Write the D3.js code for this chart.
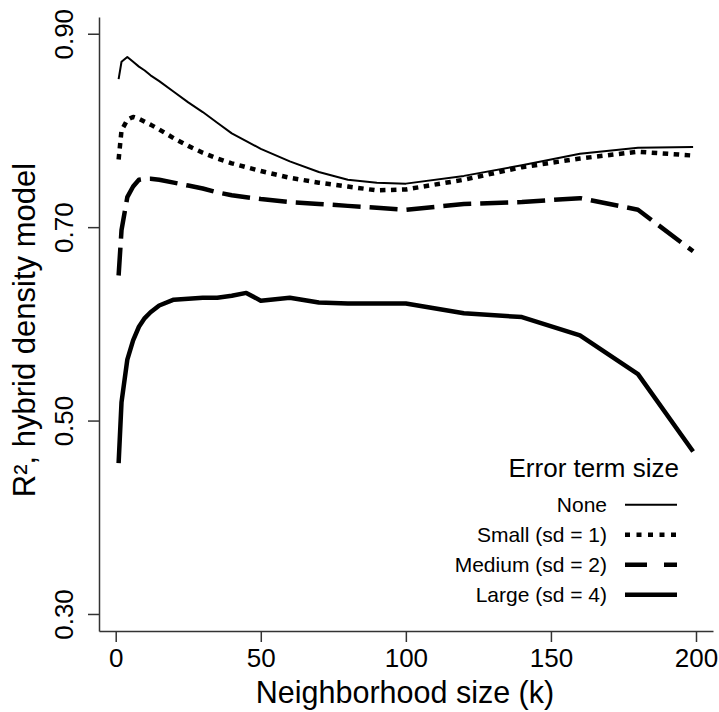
<!DOCTYPE html>
<html>
<head>
<meta charset="utf-8">
<script src="https://cdn.jsdelivr.net/npm/d3@7"></script>
<style>
  body { margin: 0; background: #fff; }
  text { font-family: "Liberation Sans", Arial, Helvetica, sans-serif; fill: #000; }
</style>
</head>
<body>
<script>
  // Width and height
  var w = 719;
  var h = 712;

  // neighborhood sizes (k) and R^2 per error term size
  var kValues = [1, 2, 4, 6, 8, 10, 12, 15, 20, 25, 30, 35, 40, 45, 50, 60, 70, 80, 90, 100, 120, 140, 160, 180, 199];
  var r2None   = [0.853, 0.871, 0.876, 0.871, 0.866, 0.862, 0.857, 0.851, 0.840, 0.829, 0.819, 0.808, 0.797, 0.789, 0.781, 0.768, 0.757, 0.749, 0.746, 0.745, 0.753, 0.764, 0.776, 0.782, 0.783];
  var r2Small  = [0.770, 0.800, 0.811, 0.814, 0.812, 0.809, 0.806, 0.801, 0.792, 0.784, 0.777, 0.771, 0.766, 0.762, 0.758, 0.751, 0.746, 0.742, 0.738, 0.739, 0.749, 0.762, 0.771, 0.778, 0.774];
  var r2Medium = [0.650, 0.697, 0.731, 0.742, 0.749, 0.750, 0.750, 0.749, 0.746, 0.743, 0.740, 0.736, 0.733, 0.731, 0.729, 0.726, 0.724, 0.722, 0.720, 0.718, 0.724, 0.726, 0.730, 0.718, 0.675];
  var r2Large  = [0.456, 0.519, 0.563, 0.583, 0.597, 0.606, 0.612, 0.619, 0.625, 0.626, 0.627, 0.627, 0.629, 0.632, 0.624, 0.627, 0.622, 0.621, 0.621, 0.621, 0.611, 0.607, 0.588, 0.548, 0.468];

  var seriesNames = ["None", "Small (sd = 1)", "Medium (sd = 2)", "Large (sd = 4)"];
  var xTicks = [0, 50, 100, 150, 200];
  var yTicks = [0.30, 0.50, 0.70, 0.90];

  // line styles, one per series
  var styles = [
    {width: 2,   dash: null,      legendDash: null},
    {width: 4.5, dash: "5.5,5.5", legendDash: "5,6.5"},
    {width: 4.5, dash: "28,9",    legendDash: "22,17"},
    {width: 4.5, dash: null,      legendDash: null}
  ];

  var series = [r2None, r2Small, r2Medium, r2Large].map((vals, i) => ({
    name: seriesNames[i],
    style: styles[i],
    points: kValues.map((k, j) => ({k: k, v: vals[j]}))
  }));

  var svg = d3.select("body")
      .append("svg")
      .attr("width", w)
      .attr("height", h);

  svg.append("rect")
      .attr("width", w)
      .attr("height", h)
      .attr("fill", "#fff");

  // scales span the full axis lines (R style 4% padding)
  var x = d3.scaleLinear().domain([-5.76, 205.86]).range([99, 713]);
  var y = d3.scaleLinear().domain([0.2824, 0.9173]).range([631, 17]);

  // x axis
  var xAxis = svg.append("g")
      .attr("transform", "translate(0,631)")
      .call(d3.axisBottom(x).tickValues(xTicks).tickSize(11).tickSizeOuter(0).tickPadding(7));

  xAxis.selectAll("text")
      .style("font-size", "26px")
      .attr("fill", "#000");

  // y axis, labels turned parallel to the axis
  var yAxis = svg.append("g")
      .attr("transform", "translate(99,0)")
      .call(d3.axisLeft(y).tickValues(yTicks).tickSize(11).tickSizeOuter(0).tickFormat(d3.format(".2f")));

  yAxis.selectAll(".tick text")
      .attr("x", null)
      .attr("dy", null)
      .attr("text-anchor", "middle")
      .attr("transform", "translate(-26,0) rotate(-90)")
      .style("font-size", "26px")
      .attr("fill", "#000");

  svg.selectAll(".domain, .tick line")
      .attr("stroke", "#333")
      .attr("stroke-width", 1.5);

  // axis titles
  svg.append("text")
      .attr("x", 405)
      .attr("y", 703)
      .attr("text-anchor", "middle")
      .style("font-size", "30.5px")
      .text("Neighborhood size (k)");

  svg.append("text")
      .attr("transform", "translate(35,330) rotate(-90)")
      .attr("text-anchor", "middle")
      .style("font-size", "31px")
      .text("R², hybrid density model");

  // lines
  var line = d3.line()
      .x(d => x(d.k))
      .y(d => y(d.v));

  svg.append("g")
      .selectAll("path")
      .data(series)
      .enter().append("path")
      .attr("d", d => line(d.points))
      .attr("fill", "none")
      .attr("stroke", "#000")
      .attr("stroke-width", d => d.style.width)
      .attr("stroke-dasharray", d => d.style.dash)
      .attr("stroke-linejoin", "round")
      .attr("stroke-linecap", "butt");

  // legend
  var legend = svg.append("g");

  legend.append("text")
      .attr("x", 679)
      .attr("y", 477)
      .attr("text-anchor", "end")
      .style("font-size", "26px")
      .text("Error term size");

  var items = legend.selectAll(".item")
      .data(series)
      .enter().append("g")
      .attr("class", "item")
      .attr("transform", (d, i) => `translate(0, ${511.7 + i * 30})`);

  items.append("text")
      .attr("x", 607)
      .attr("text-anchor", "end")
      .style("font-size", "21px")
      .text(d => d.name);

  items.append("line")
      .attr("x1", 625)
      .attr("x2", 677)
      .attr("y1", -7)
      .attr("y2", -7)
      .attr("stroke", "#000")
      .attr("stroke-width", d => d.style.width)
      .attr("stroke-dasharray", d => d.style.legendDash);
</script>
</body>
</html>
